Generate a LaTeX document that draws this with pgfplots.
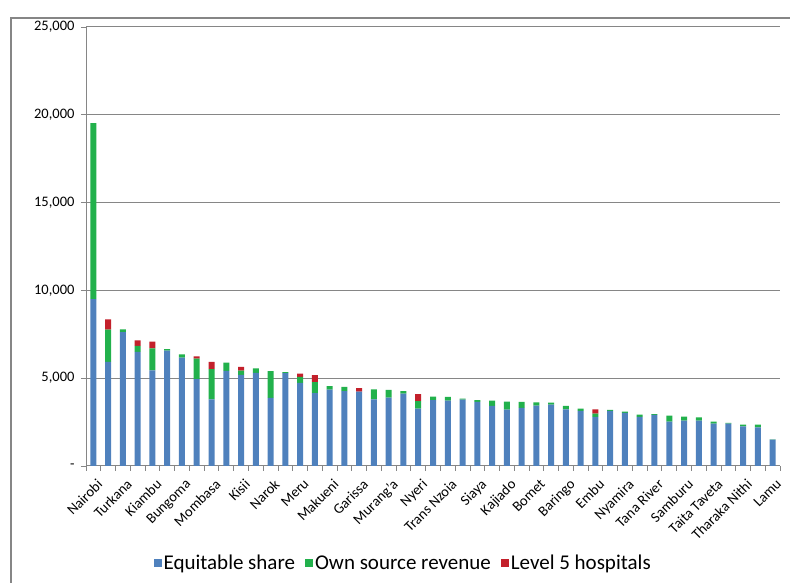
\documentclass[border=0pt]{standalone}
\usepackage{pgfplots}
\pgfplotsset{compat=1.18}
\usepackage{pgfplotstable}
\usepackage{fontspec}
\setmainfont{Carlito}
\definecolor{cblue}{RGB}{79,129,189}
\definecolor{cgreen}{RGB}{34,177,76}
\definecolor{cred}{RGB}{195,32,43}
\definecolor{cgrid}{RGB}{134,134,134}
\pgfplotstableread{
idx blue green red
1 9500 10020 0
2 5925 1840 590
3 7630 150 0
4 6495 340 320
5 5450 1250 380
6 6570 80 0
7 6170 190 0
8 4940 1175 130
9 3800 1710 420
10 5410 475 0
11 5185 245 210
12 5300 265 0
13 3880 1520 0
14 5285 55 0
15 4735 340 190
16 4145 630 400
17 4355 190 0
18 4260 245 0
19 4240 0 190
20 3800 570 0
21 3900 435 0
22 4125 135 0
23 3270 420 400
24 3745 210 0
25 3725 210 0
26 3780 60 0
27 3650 95 0
28 3420 305 0
29 3215 455 0
30 3310 340 0
31 3440 190 0
32 3500 115 0
33 3230 190 0
34 3135 135 0
35 2795 190 245
36 3135 55 0
37 3020 80 0
38 2795 135 0
39 2910 40 0
40 2530 340 0
41 2585 230 0
42 2585 190 0
43 2415 115 0
44 2415 40 0
45 2260 95 0
46 2205 150 0
47 1500 20 0
}\data
\begin{document}
\begin{tikzpicture}[x=1pt,y=1pt]
\useasboundingbox (0,0) rectangle (790,583);
\draw[cgrid, line width=1.2pt] (11,-2) -- (11,565) -- (792,565);
\begin{axis}[
  at={(86pt,117pt)}, anchor=south west,
  width=694pt, height=439pt, scale only axis,
  ybar stacked, bar width=6pt,
  xmin=0.5, xmax=47.5, ymin=0, ymax=25000,
  scaled y ticks=false,
  axis x line*=bottom, axis y line*=left,
  axis line style={cgrid, line width=1pt},
  ymajorgrids, grid style={cgrid, line width=1pt},
  tick align=outside, major tick length=5pt, minor tick length=5pt,
  tick style={cgrid, line width=0.8pt},
  ytick={0,5000,10000,15000,20000,25000},
  yticklabels={{-\hspace{9pt}},{5,000},{10,000},{15,000},{20,000},{25,000}},
  xtick={1,3,...,47},
  xticklabels={Nairobi,Turkana,Kiambu,Bungoma,Mombasa,Kisii,Narok,Meru,Makueni,Garissa,Murang'a,Nyeri,Trans Nzoia,Siaya,Kajiado,Bomet,Baringo,Embu,Nyamira,Tana River,Samburu,Taita Taveta,Tharaka Nithi,Lamu},
  major x tick style={draw=none},
  minor xtick={0.5,1.5,...,47.5},
  ticklabel style={font=\fontsize{14.5}{17}\selectfont},
  yticklabel style={xshift=-3pt},
  xticklabel style={rotate=45, anchor=north east, inner sep=1pt, xshift=-2pt, yshift=-6pt},
  legend style={at={(axis description cs:0.457,-0.221)}, anchor=center, draw=none,
    font=\fontsize{21}{24}\selectfont, legend columns=3,
    /tikz/every even column/.append style={column sep=8pt}},
]
\addplot[fill=cblue, draw=none, legend image code/.code={\fill[cblue] (0pt,-4pt) rectangle (8pt,4pt);}] table[x=idx,y=blue]{\data};
\addplot[fill=cgreen, draw=none, legend image code/.code={\fill[cgreen] (0pt,-4pt) rectangle (8pt,4pt);}] table[x=idx,y=green]{\data};
\addplot[fill=cred, draw=none, legend image code/.code={\fill[cred] (0pt,-4pt) rectangle (8pt,4pt);}] table[x=idx,y=red]{\data};
\legend{Equitable share,Own source revenue,Level 5 hospitals}
\end{axis}
\end{tikzpicture}
\end{document}
